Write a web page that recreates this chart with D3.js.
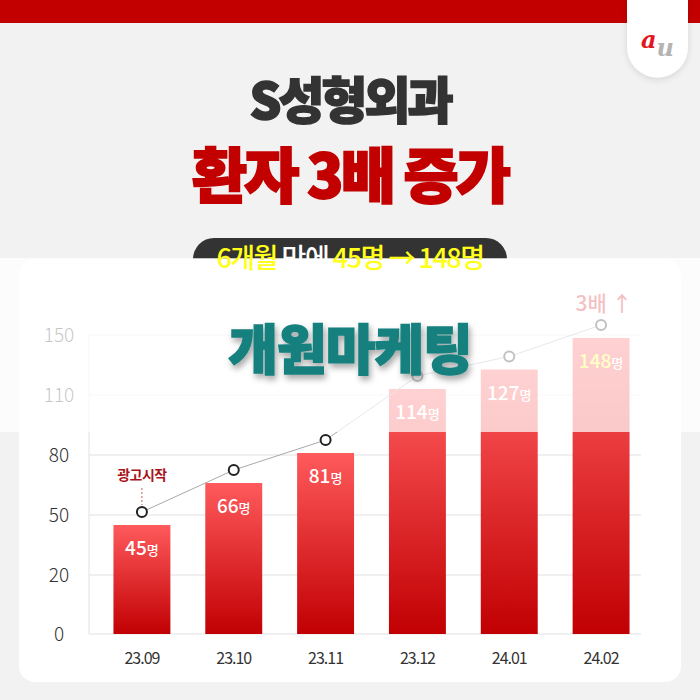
<!DOCTYPE html>
<html>
<head>
<meta charset="utf-8">
<script src="https://cdn.jsdelivr.net/npm/d3@7"></script>
<style>
  html, body { margin: 0; padding: 0; background: #f2f2f2; }
  svg { display: block; }
  text { font-family: "Noto Sans CJK KR", "Noto Sans", sans-serif; }
</style>
</head>
<body>
<div id="chart"></div>
<script>
var months = ["23.09", "23.10", "23.11", "23.12", "24.01", "24.02"];
var patients = [45, 66, 81, 114, 127, 148];
var yTicks = [0, 20, 50, 80, 110, 150];

var width = 700, height = 700;

var svg = d3.select('#chart').append('svg')
    .attr('width', width)
    .attr('height', height);

var defs = svg.append('defs');

var grad = defs.append('linearGradient')
    .attr('id', 'barGrad')
    .attr('x1', 0).attr('y1', 0).attr('x2', 0).attr('y2', 1);
grad.append('stop').attr('offset', '0%').attr('stop-color', '#ff5a5c');
grad.append('stop').attr('offset', '100%').attr('stop-color', '#c10003');

var shadow = defs.append('filter').attr('id', 'shadow')
    .attr('x', '-20%').attr('y', '-20%').attr('width', '140%').attr('height', '160%');
shadow.append('feDropShadow')
    .attr('dx', 2).attr('dy', 4).attr('stdDeviation', 3)
    .attr('flood-color', '#000').attr('flood-opacity', 0.35);

var softShadow = defs.append('filter').attr('id', 'softShadow')
    .attr('x', '-30%').attr('y', '-30%').attr('width', '160%').attr('height', '170%');
softShadow.append('feDropShadow')
    .attr('dx', 0).attr('dy', 2).attr('stdDeviation', 3)
    .attr('flood-color', '#000').attr('flood-opacity', 0.12);

// background + header
svg.append('rect').attr('width', width).attr('height', height).attr('fill', '#f2f2f2');
svg.append('rect').attr('width', width).attr('height', 23).attr('fill', '#c20000');

// logo tab
svg.append('path')
    .attr('d', 'M627,0 H688 V47 A30,30 0 0 1 627,47 Z')
    .attr('fill', '#fff')
    .attr('filter', 'url(#softShadow)');
var logo = svg.append('text')
    .attr('x', 641).attr('y', 48)
    .style('font-family', '"DejaVu Serif", serif')
    .style('font-style', 'italic').style('font-weight', 'bold');
logo.append('tspan')
    .style('font-size', '24px')
    .attr('fill', '#e3161d')
    .text('a');
logo.append('tspan')
    .attr('dy', 8)
    .style('font-size', '24px')
    .attr('fill', '#b4b4b4')
    .text('u');

// titles
svg.append('text')
    .attr('x', 350).attr('y', 119)
    .attr('text-anchor', 'middle')
    .style('font-size', '50px').style('font-weight', 900)
    .style('letter-spacing', '-3px')
    .attr('fill', '#333')
    .attr('stroke', '#333').attr('stroke-width', 1.6)
    .text('S성형외과');
svg.append('text')
    .attr('x', 350).attr('y', 198)
    .attr('text-anchor', 'middle')
    .style('font-size', '60px').style('font-weight', 900)
    .style('letter-spacing', '-3px')
    .attr('fill', '#c20000')
    .attr('stroke', '#c20000').attr('stroke-width', 1.8)
    .text('환자 3배 증가');

// pill
svg.append('rect')
    .attr('x', 193).attr('y', 238).attr('width', 314).attr('height', 42)
    .attr('rx', 21).attr('fill', '#333');

// card
svg.append('rect')
    .attr('x', 19).attr('y', 259).attr('width', 662).attr('height', 423)
    .attr('rx', 16).attr('fill', '#fff');

// scales
var x = d3.scaleBand()
    .domain(months)
    .range([96, 647])
    .paddingInner(0.38)
    .paddingOuter(0.19);

var y = d3.scaleLinear()
    .domain(yTicks)
    .range([634, 575, 515, 455, 395, 335]);

var chart = svg.append('g').classed('chart-group', true);

// grid
chart.selectAll('.grid')
    .data(yTicks)
    .enter().append('line')
    .attr('class', 'grid')
    .attr('x1', 89).attr('x2', 641)
    .attr('y1', function(d) { return y(d); })
    .attr('y2', function(d) { return y(d); })
    .attr('stroke', '#ebebeb')
    .attr('stroke-width', 1.5);

chart.append('line')
    .attr('x1', 89).attr('x2', 89)
    .attr('y1', y(150)).attr('y2', y(0))
    .attr('stroke', '#ebebeb')
    .attr('stroke-width', 1.5);

// y axis
var yAxis = chart.append('g')
    .attr('class', 'y-axis-group axis')
    .attr('transform', 'translate(59,0)')
    .call(d3.axisLeft(y).tickValues(yTicks).tickSize(0).tickPadding(0));
yAxis.select('.domain').remove();
yAxis.selectAll('text')
    .attr('text-anchor', 'middle')
    .attr('x', 0)
    .attr('fill', '#333')
    .style('font-family', '"Noto Sans CJK KR", sans-serif')
    .style('font-weight', 300)
    .style('font-size', '19px');

// x axis
var xAxis = chart.append('g')
    .attr('class', 'x-axis-group axis')
    .attr('transform', 'translate(0,653)')
    .call(d3.axisBottom(x).tickSize(0).tickPadding(0));
xAxis.select('.domain').remove();
xAxis.selectAll('text')
    .attr('dy', '0.7em')
    .attr('fill', '#333')
    .style('font-family', '"Noto Sans CJK KR", sans-serif')
    .style('font-size', '16px')
    .style('letter-spacing', '-1px');

// bars
chart.selectAll('.bar')
    .data(patients)
    .enter().append('rect')
    .attr('class', 'bar')
    .attr('x', function(d, i) { return x(months[i]); })
    .attr('width', x.bandwidth())
    .attr('y', function(d) { return y(d); })
    .attr('height', function(d) { return y(0) - y(d); })
    .attr('fill', 'url(#barGrad)');

// value labels
var labels = chart.selectAll('.value')
    .data(patients)
    .enter().append('text')
    .attr('class', 'value')
    .attr('x', function(d, i) { return x(months[i]) + x.bandwidth() / 2; })
    .attr('y', function(d) { return y(d) + 30; })
    .attr('text-anchor', 'middle')
    .attr('fill', '#fff');
labels.append('tspan')
    .style('font-size', '19px').style('font-weight', 500)
    .attr('fill', function(d, i) { return i === patients.length - 1 ? '#ffff33' : '#fff'; })
    .text(function(d) { return d; });
labels.append('tspan')
    .style('font-size', '13px').style('font-weight', 500)
    .text('명');

// trend line
var line = d3.line()
    .x(function(d, i) { return x(months[i]) + x.bandwidth() / 2; })
    .y(function(d) { return y(d) - 13; });

chart.append('path')
    .datum(patients)
    .attr('d', line)
    .attr('fill', 'none')
    .attr('stroke', '#a8a8a8')
    .attr('stroke-width', 1);

chart.selectAll('.dot')
    .data(patients)
    .enter().append('circle')
    .attr('class', 'dot')
    .attr('cx', function(d, i) { return x(months[i]) + x.bandwidth() / 2; })
    .attr('cy', function(d) { return y(d) - 13; })
    .attr('r', 5)
    .attr('fill', '#fff')
    .attr('stroke', '#222')
    .attr('stroke-width', 2);

// 광고시작 annotation, hung above the first point
var firstX = x(months[0]) + x.bandwidth() / 2;
var firstY = y(patients[0]) - 13;
chart.append('line')
    .attr('x1', firstX).attr('x2', firstX)
    .attr('y1', firstY - 24).attr('y2', firstY - 7)
    .attr('stroke', '#c26060')
    .attr('stroke-width', 1)
    .attr('stroke-dasharray', '2,2');
chart.append('text')
    .attr('x', firstX).attr('y', firstY - 32)
    .attr('text-anchor', 'middle')
    .style('font-size', '14px').style('font-weight', 700)
    .style('letter-spacing', '-0.5px')
    .attr('fill', '#a8141a')
    .text('광고시작');

// 3배 ↑
var lastX = x(months[months.length - 1]) + x.bandwidth() / 2;
chart.append('text')
    .attr('x', lastX + 3).attr('y', 311)
    .attr('text-anchor', 'middle')
    .style('font-size', '21px').style('font-weight', 500)
    .attr('fill', '#d42020')
    .text('3배 ↑');

// white wash over the upper band
svg.append('rect')
    .attr('x', 0).attr('y', 258).attr('width', width).attr('height', 174)
    .attr('fill', '#fff')
    .attr('opacity', 0.72);

// pill text
var pill = svg.append('text')
    .attr('x', 350).attr('y', 268)
    .attr('text-anchor', 'middle')
    .style('font-size', '27px').style('font-weight', 500)
    .style('letter-spacing', '-1.5px');
pill.append('tspan').attr('fill', '#ffff1a').text('6개월 ');
pill.append('tspan').attr('fill', '#fff').text('만에 ');
pill.append('tspan').attr('fill', '#ffff1a').text('45명 → 148명');

// watermark
svg.append('text')
    .attr('x', 350).attr('y', 370)
    .attr('text-anchor', 'middle')
    .style('font-size', '54px').style('font-weight', 900)
    .style('letter-spacing', '-1px')
    .attr('fill', '#17807f')
    .attr('stroke', '#17807f').attr('stroke-width', 1.5)
    .attr('filter', 'url(#shadow)')
    .text('개원마케팅');
</script>
</body>
</html>
